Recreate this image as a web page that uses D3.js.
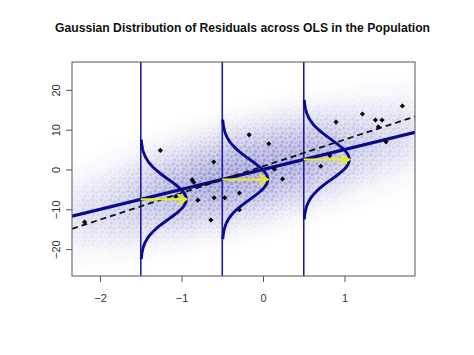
<!DOCTYPE html>
<html>
<head>
<meta charset="utf-8">
<script src="https://cdn.jsdelivr.net/npm/d3@7/dist/d3.min.js"></script>
<style>
  body { margin: 0; background: #fff; }
  svg { display: block; }
  text { font-family: "Liberation Sans", Arial, sans-serif; }
</style>
</head>
<body>
<script>
// chart values
var xTicks = [-2, -1, 0, 1];
var yTicks = [-20, -10, 0, 10, 20];

// population line y = a + b x, and the sample OLS line (dashed)
var popLine = {a: 0, b: 5};
var sampleLine = {a: 0.8, b: 6.7};

// population cloud, column by column: centre, half spread, density
var cloudX       = [-2.25, -2.0, -1.75, -1.5, -1.25, -1.0, -0.75, -0.5, -0.25, 0, 0.25, 0.5, 0.75, 1.0, 1.25, 1.5, 1.75];
var cloudMid     = [-11.5, -10.5, -9, -7.5, -6, -5, -3.5, -2.5, -1, 0, 1.5, 2.5, 4, 5, 6.5, 7.5, 9];
var cloudSpread  = [14, 14.5, 15.5, 16, 16, 16.5, 16.5, 17, 17, 17, 17, 16.5, 16, 16, 15.5, 15, 14.5];
var cloudDensity = [0.35, 0.4, 0.5, 0.6, 0.75, 0.85, 0.95, 1, 1, 1, 0.95, 0.9, 0.8, 0.65, 0.55, 0.45, 0.4];

// sample points (black diamonds)
var sampleX = [-2.19, -1.26, -1.07, -0.87, -0.85, -0.80, -0.64, -0.605, -0.60, -0.47, -0.29, -0.29, -0.17, 0.07, 0.14, 0.24, 0.71, 0.82, 0.896, 1.22, 1.38, 1.46, 1.415, 1.51, 1.71];
var sampleY = [-13.2, 4.8, -6.8, -2.6, -3.2, -7.7, -12.7, 1.9, -7.1, -7.1, -5.9, -10.1, 8.7, 6.45, 0.05, -2.4, 0.8, 3.5, 11.9, 13.95, 12.45, 12.45, 10.7, 6.95, 15.95];

// conditional distributions drawn at three x values
var condX = [-1.5, -0.5, 0.5];
var condMean = [-7.5, -2.5, 2.5];
var residSd = 5;
var curveScale = 7;

var margin = {top: 62, right: 59, bottom: 79, left: 72};
var W = 474, H = 355;

var svg = d3.select("body").append("svg")
    .attr("width", W)
    .attr("height", H);

var x = d3.scaleLinear().domain([-2.344, 1.865]).range([margin.left, W - margin.right]);
var y = d3.scaleLinear().domain([-26.75, 27]).range([H - margin.bottom, margin.top]);

var defs = svg.append("defs");
defs.append("clipPath").attr("id", "plotClip")
    .append("rect")
    .attr("x", x.range()[0]).attr("y", y.range()[1])
    .attr("width", x.range()[1] - x.range()[0])
    .attr("height", y.range()[0] - y.range()[1]);

var grad = defs.append("linearGradient").attr("id", "cloudGrad")
    .attr("x1", 0).attr("y1", 0).attr("x2", 0).attr("y2", 1);
[[0, 0], [0.15, 0.25], [0.32, 0.7], [0.5, 1], [0.68, 0.7], [0.85, 0.25], [1, 0]].forEach(function(s){
    grad.append("stop").attr("offset", s[0]).attr("stop-color", "#3c3caa").attr("stop-opacity", s[1]);
});

defs.append("filter").attr("id", "soft")
    .attr("x", "-20%").attr("y", "-20%").attr("width", "140%").attr("height", "140%")
    .append("feGaussianBlur").attr("stdDeviation", "6 4");

// dotted texture so the cloud reads as many faint points
var pat = defs.append("pattern").attr("id", "dots")
    .attr("patternUnits", "userSpaceOnUse")
    .attr("width", 9).attr("height", 9);
pat.append("rect").attr("width", 9).attr("height", 9).attr("fill", "#fff").attr("fill-opacity", 0.55);
[[2, 2, 0.9], [6.5, 3.5, 0.7], [3.5, 7, 0.8], [8, 8, 0.6]].forEach(function(c){
    pat.append("circle").attr("cx", c[0]).attr("cy", c[1]).attr("r", 1.8)
        .attr("fill", "#fff").attr("fill-opacity", c[2]);
});
defs.append("mask").attr("id", "dotMask")
    .attr("maskUnits", "userSpaceOnUse")
    .attr("x", 0).attr("y", 0).attr("width", W).attr("height", H)
    .append("rect").attr("width", W).attr("height", H).attr("fill", "url(#dots)");

var plot = svg.append("g").attr("clip-path", "url(#plotClip)");

// population cloud
var colW = x(0.25) - x(0);
plot.append("g").attr("mask", "url(#dotMask)")
    .append("g").attr("filter", "url(#soft)")
    .selectAll("rect")
    .data(cloudX)
    .enter()
    .append("rect")
    .attr("x", function(d){ return x(d) - colW / 2 - 1; })
    .attr("width", colW + 2)
    .attr("y", function(d, i){ return y(cloudMid[i] + cloudSpread[i]); })
    .attr("height", function(d, i){ return y(cloudMid[i] - cloudSpread[i]) - y(cloudMid[i] + cloudSpread[i]); })
    .attr("fill", "url(#cloudGrad)")
    .attr("opacity", function(d, i){ return cloudDensity[i] * 0.6; });

// vertical lines
plot.selectAll(".vline")
    .data(condX)
    .enter()
    .append("line")
    .attr("class", "vline")
    .attr("x1", function(d){ return x(d); })
    .attr("x2", function(d){ return x(d); })
    .attr("y1", y.range()[0])
    .attr("y2", y.range()[1])
    .attr("stroke", "#1c1c9c")
    .attr("stroke-width", 1.6);

// population regression line
var xd = x.domain();
plot.append("line")
    .attr("x1", x(xd[0])).attr("y1", y(popLine.a + popLine.b * xd[0]))
    .attr("x2", x(xd[1])).attr("y2", y(popLine.a + popLine.b * xd[1]))
    .attr("stroke", "#0a0a8c")
    .attr("stroke-width", 3.4);

// sample regression line
plot.append("line")
    .attr("x1", x(xd[0])).attr("y1", y(sampleLine.a + sampleLine.b * xd[0]))
    .attr("x2", x(xd[1])).attr("y2", y(sampleLine.a + sampleLine.b * xd[1]))
    .attr("stroke", "#111")
    .attr("stroke-width", 1.8)
    .attr("stroke-dasharray", "6,4");

// sample points, square turned 45 degrees like pch 18
plot.selectAll(".pt")
    .data(sampleX)
    .enter()
    .append("path")
    .attr("class", "pt")
    .attr("d", d3.symbol().type(d3.symbolSquare).size(13))
    .attr("transform", function(d, i){ return "translate(" + x(d) + "," + y(sampleY[i]) + ") rotate(45)"; })
    .attr("fill", "#000");

// gaussian curves turned sideways
function dnorm(v, m, s){
    return Math.exp(-0.5 * Math.pow((v - m) / s, 2)) / (s * Math.sqrt(2 * Math.PI));
}
var curve = d3.line()
    .x(function(d){ return x(d[0]); })
    .y(function(d){ return y(d[1]); });

condX.forEach(function(cx, i){
    var m = condMean[i];
    var pts = d3.range(-15, 15.01, 0.25).map(function(o){
        return [cx + curveScale * dnorm(m + o, m, residSd), m + o];
    });
    plot.append("path")
        .attr("d", curve(pts))
        .attr("fill", "none")
        .attr("stroke", "#0a0a8c")
        .attr("stroke-width", 2.9);
});

// yellow arrows from the line to the peak
var peak = curveScale * dnorm(0, 0, residSd);
plot.selectAll(".arrow")
    .data(condX)
    .enter()
    .append("path")
    .attr("class", "arrow")
    .attr("d", function(d, i){
        var x0 = x(d), x1 = x(d + peak), yy = y(condMean[i]);
        var len = 10, ang = Math.PI / 6;
        return "M" + x0 + "," + yy + "L" + x1 + "," + yy +
            "M" + (x1 - len * Math.cos(ang)) + "," + (yy - len * Math.sin(ang)) +
            "L" + x1 + "," + yy +
            "L" + (x1 - len * Math.cos(ang)) + "," + (yy + len * Math.sin(ang));
    })
    .attr("fill", "none")
    .attr("stroke", "#ecec1c")
    .attr("stroke-width", 2);

// box and axes
svg.append("rect")
    .attr("x", x.range()[0]).attr("y", y.range()[1])
    .attr("width", x.range()[1] - x.range()[0])
    .attr("height", y.range()[0] - y.range()[1])
    .attr("fill", "none")
    .attr("stroke", "#555")
    .attr("stroke-width", 1);

var xAxis = svg.append("g")
    .attr("transform", "translate(0," + y.range()[0] + ")")
    .call(d3.axisBottom(x).tickValues(xTicks).tickSize(6).tickPadding(12).tickFormat(d3.format("d")));
xAxis.select(".domain").remove();

var yAxis = svg.append("g")
    .attr("transform", "translate(" + x.range()[0] + ",0)")
    .call(d3.axisLeft(y).tickValues(yTicks).tickSize(6).tickFormat(d3.format("d")));
yAxis.select(".domain").remove();
yAxis.selectAll("text")
    .attr("x", 0).attr("y", 0).attr("dy", null)
    .attr("text-anchor", "middle")
    .attr("transform", "translate(" + (59.5 - x.range()[0]) + ",0) rotate(-90)");

svg.selectAll(".tick line").attr("stroke", "#555");
svg.selectAll(".tick text")
    .attr("fill", "#333")
    .style("font-size", "11px")
    .style("font-family", "'Liberation Sans', Arial, sans-serif");

// title
svg.append("text")
    .attr("x", 242.5)
    .attr("y", 32)
    .attr("text-anchor", "middle")
    .attr("textLength", 375)
    .attr("lengthAdjust", "spacingAndGlyphs")
    .style("font-size", "13px")
    .style("font-weight", "bold")
    .attr("fill", "#111")
    .text("Gaussian Distribution of Residuals across OLS in the Population");
</script>
</body>
</html>
